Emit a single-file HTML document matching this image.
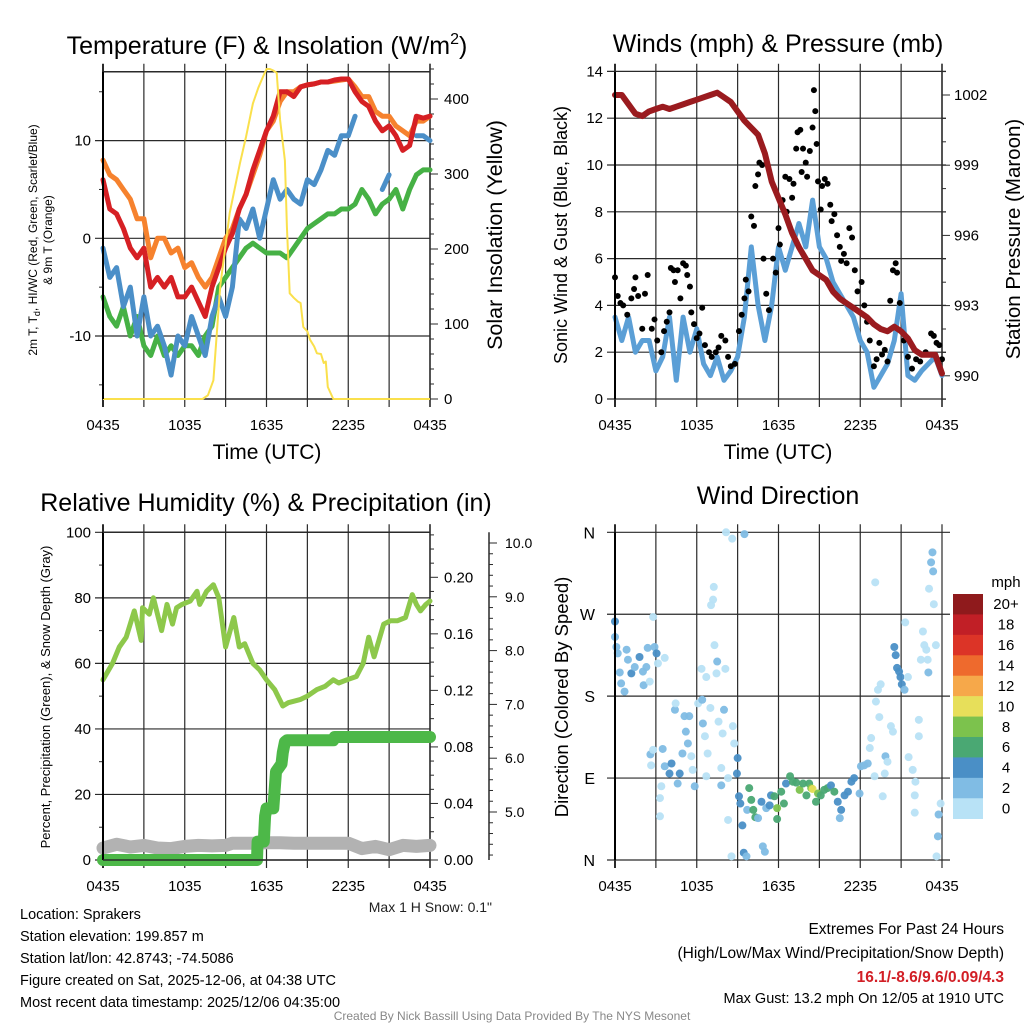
<!DOCTYPE html>
<html><head><meta charset="utf-8"><style>
html,body{margin:0;padding:0;background:#fff;}
svg{display:block;font-family:"Liberation Sans",Arial,sans-serif;}
</style></head><body>
<svg id="c" width="1024" height="1024" viewBox="0 0 1024 1024"></svg>
<script>
// ---------- DATA ----------
const timeLabels = ["0435","1035","1635","2235","0435"];
const tempTicks = [-10,0,10];
const insolTicks = [0,100,200,300,400];
const tT = [0,0.5,1,1.5,2,2.5,3,3.5,4,4.5,5,5.5,6,6.5,7,7.5,8,8.5,9,9.5,10,10.5,11,11.5,12,12.5,13,13.5,14,14.5,15,15.5,16,16.5,17,17.5,18,18.5,19,19.5,20,20.5,21,21.5,22,22.5,23,23.5,24];
const tempRed = [6,3,2.5,1,-1,-2,-1,-5,-4,-5,-4,-6,-6,-5,-6.5,-8,-5,-3,-1,0.5,3,4.5,7,9,11,12.5,15,15,14.5,15.5,15.7,15.8,16,16,16.2,16.3,16.3,15,14,13.5,12,11,11.5,10.5,9,9.5,12.5,12.3,12.5];
const tempOrange = [8,6.5,6,5,4,2,2,-2,0,0,-1.5,-1,-3,-2.5,-4,-5,-4,-2,0,1,3,4.5,6.5,8.5,11,12,14,15,15,15.5,15.7,15.8,16,16,16.1,16.2,16.3,15.5,14.5,14.5,13,12.5,12.5,11.5,11,10.5,12,12,12.5];
const tempBlue = [-1,-4,-3,-7,-5,-10,-6,-10,-9,-11,-14,-10,-11,-8,-10,-12,-8,-6,-8,-5,2,1,3,0,3,6,4,5,4,3.5,6,5.5,7,9,8.5,10.5,10.5,12.5,null,null,null,5,6.5,null,null,null,10.5,10.5,10];
const dewGreen = [-6,-8,-9,-7,-10,-8,-11,-12,-10,-12,-11,-12,-11,-11,-12,-10,-9,-5,-4,-3,-2,-1,-0.5,-1,-1.5,-1.5,-1.5,-2,-1,0,1,1.5,2,2.5,2.5,3,3,3.5,5,4,2.5,3.5,4,5,3,5,6.5,7,7];
const insolT = [0,7.3,7.7,8.1,8.6,9.3,10.05,10.5,11,11.4,11.75,12.0,12.25,12.5,12.75,13,13.35,13.5,13.7,14.0,14.3,14.5,14.7,15.0,15.2,15.5,15.7,16.0,16.2,16.35,16.5,16.9,24];
const insol = [0,0,5,25,150,248,314,350,394,415,430,440,440,438,435,372,318,230,141,135,130,128,96,90,79,70,61,60,48,50,16,0,0];

const windTicks = [0,2,4,6,8,10,12,14];
const presTicks = [990,993,996,999,1002];
const windSpeed = [3.5,2.5,3.5,2,2.5,2.5,1.2,1.8,3.5,0.8,3.5,2,3,1.5,1,1.8,0.8,1.2,1.8,3.5,6.5,4,2.5,4,6.5,5.5,6.5,7.5,6.5,8.5,6.5,6,5,4.5,4,3.5,2.5,2,0.5,1,1.5,2.5,4.5,1,0.8,1.2,1.5,1.8,1];
const pressure = [1002,1002,1001.6,1001.2,1001.1,1001.3,1001.4,1001.5,1001.4,1001.5,1001.6,1001.7,1001.8,1001.9,1002,1002.1,1001.9,1001.7,1001.3,1000.9,1000.6,1000.3,999.5,998.3,997.6,996.9,996.1,995.5,995,994.5,994.3,994.1,993.6,993.3,993.1,992.9,992.7,992.5,992.2,992,991.9,992.1,991.9,991.6,991.1,990.9,990.9,990.9,990.1];
const gustT = [0,0.2,0.4,0.6,0.9,1.2,1.4,1.5,1.7,2,2.2,2.4,2.7,2.9,3.1,3.4,3.6,3.8,4,4.1,4.3,4.4,4.6,4.8,5,5.2,5.3,5.5,5.6,5.8,6,6.2,6.4,6.6,6.9,7.1,7.4,7.6,7.8,8.1,8.3,8.5,8.8,9.1,9.3,9.5,9.6,9.8,10,10.2,10.3,10.5,10.6,10.8,10.9,11.1,11.3,11.6,11.8,12,12.1,12.3,12.5,12.6,12.8,13,13.1,13.3,13.4,13.6,13.7,13.8,14,14.1,14.3,14.5,14.6,14.7,14.8,14.9,15.1,15.2,15.4,15.6,15.8,15.9,16.1,16.3,16.5,16.6,16.8,17,17.2,17.4,17.6,17.8,18.1,18.3,18.5,18.7,19,19.2,19.4,19.6,19.8,20,20.2,20.4,20.6,20.7,20.9,21.2,21.5,21.8,22.1,22.4,22.8,23.2,23.4,23.6,23.8,24];
const gust = [5.2,4.4,4.1,4,3.6,4.3,4.7,5.2,4.4,3,4.5,5.3,3,3.4,2.5,2,2.9,3.3,3.7,5.6,5.5,5,5.5,4.3,5.8,5.7,5.3,4.8,3.7,3.2,2.6,2.8,3.9,2.3,2,1.8,2,2.2,2.7,2.5,1.8,1.4,1.5,2.9,3.6,4.3,5.1,4.6,7.8,7.4,9.1,9.6,10.1,10,6,4.5,3.8,6,5.4,7.3,6.6,8.5,9.5,8,9.4,8.6,9.2,10.7,11.4,11.5,9.7,10.7,10.1,9.5,10.6,11.6,13.2,12.3,10.9,9.3,8.1,9.1,9.4,9.2,8.3,7.6,7.9,7,6.5,5.9,6.2,5.8,7.3,6.9,5.5,4.6,5,4,3.3,2.5,1.4,1.7,2.4,1.9,2.1,1.6,4.2,5.5,5.8,5.4,4.1,2.5,1.8,1.3,1.7,1.6,2,2.8,2.7,2.4,2.3,1.7];

const rhTicks = [0,20,40,60,80,100];
const precipTicks = ["0.00","0.04","0.08","0.12","0.16","0.20"];
const snowTicks = ["5.0","6.0","7.0","8.0","9.0","10.0"];
const rhT = [0,0.7,1.2,1.7,2.3,2.8,2.9,3.4,3.7,4.3,4.7,5.1,5.4,5.8,6.4,6.9,7.1,7.6,8.1,8.5,9.0,9.6,10.0,10.4,11.0,11.5,12.0,12.6,13.2,13.6,14.5,15.0,15.7,16.3,16.9,17.3,17.9,18.6,19.1,19.5,19.9,20.6,21.1,21.6,22.2,22.7,23.0,23.3,23.7,24];
const rh = [55,60,65,68,76,67,77,75,80,70,78,72,77,78,79,82,78,82,84,80,65,74,65,66,60,58,55,52,47,48,49,50,52,53,55,54,55,56,60,68,62,72,73,73,74,81,78,76,78,79];
const precipT = [0,11.3,11.35,11.8,11.9,12.0,12.5,12.6,12.7,13.1,13.2,13.35,13.5,16.9,17.0,24];
const precip = [0,0,0.013,0.013,0.031,0.0365,0.0365,0.05,0.0625,0.068,0.076,0.0835,0.0847,0.0847,0.087,0.087];
const snowT = [0,1,2,3,4,5,6,7,8,9,9.5,10,11,12,13,14,15,16,17,18,19,20,21,22,23,24];
const snowDepth = [4.33,4.4,4.35,4.38,4.33,4.32,4.36,4.38,4.37,4.38,4.42,4.42,4.42,4.43,4.43,4.42,4.42,4.42,4.42,4.42,4.32,4.36,4.3,4.38,4.36,4.38];

const dirLabels = ["N","E","S","W","N"];
const barLabels = ["20+","18","16","14","12","10","8","6","4","2","0"];
const barColors = ["#8f1a1c","#c11f26","#dc3427","#ee6a2d","#f6a84a","#e7df5a","#7cc24d","#4aa873","#4a8fc6","#80bce4","#b8e2f6"];
const dirT = [0,0,0.1,0.2,0.35,0.45,0.7,0.85,0.95,1.2,1.45,1.8,2.05,2.3,2.4,2.1,2.55,2.8,2.9,3.05,3.15,3.65,2.6,2.65,2.8,3.3,3.3,3.4,3.5,3.65,4,4.15,4.4,4.45,4.6,4.75,4.95,5.1,5.2,5.35,5.45,5.6,5.7,5.85,6.1,6.4,6.45,6.6,6.7,6.8,7,7.05,7.2,7.25,7.3,6.35,6.7,7.45,7.5,8.1,7.6,7.9,8,7.8,7.8,8.3,8.65,8.75,8.3,8.15,8.6,9.5,8.95,9,9.1,9.2,9.35,9.45,9.65,8.55,9.7,9.85,10,10.15,10.3,10.5,10.75,10.85,11,11.1,11.35,11.45,11.7,11.9,11.9,12.2,12.4,12.55,12.85,13.05,13.3,13.55,13.8,14.05,14.25,14.4,14.5,14.75,14.9,15.1,15.35,15.6,15.85,16.1,16.35,16.5,16.6,16.85,17.1,17.35,17.55,17.95,18.05,18.3,18.55,18.7,18.8,19.05,19.15,19.3,19.4,19.5,19.65,19.8,19.85,20,19.1,20.25,20.4,20.5,20.6,20.7,20.85,20.95,21.05,21.25,21.3,21.5,21.55,21.85,22,22.05,22,22.3,22.3,22.45,22.6,22.7,22.85,22.95,23,23.05,23.2,23.3,23.35,23.4,23.55,23.7,23.75,23.9,23.6];
const dirDeg = [262,245,234,227,206,194,185,231,220,205,212,223,207,212,233,192,196,267,234,227,216,222,116,104,121,68,48,81,122,103,95,106,165,172,84,95,117,158,141,128,158,114,99,81,172,176,150,136,92,117,167,280,286,300,236,210,201,205,218,210,152,139,165,101,82,90,147,128,44,360,353,358,95,112,70,62,38,8,4,4,55,79,66,55,47,46,64,15,9,57,60,71,70,57,45,75,62,84,92,86,85,77,84,71,84,79,78,64,73,71,77,79,82,75,64,46,55,71,75,86,90,73,103,104,106,123,134,92,174,187,157,193,70,95,114,108,305,147,141,234,225,211,207,201,193,187,261,201,113,99,71,86,52,154,136,220,251,236,231,220,206,298,327,338,317,281,236,26,50,62,4];
const dirSpd = [5,3,3,3,3,3,3,3,3,5,3,5,3,3,3,3,1,1,3,5,1,1,3,1,1,1,1,1,3,3,5,5,3,1,3,5,3,3,3,3,2,1,1,3,1,3,3,1,1,1,1,1,1,1,1,1,1,1,3,1,1,1,3,1,3,1,1,1,1,1,1,3,5,5,5,5,5,5,3,1,3,7,7,7,7,3,5,3,3,3,5,5,7,9,7,7,7,5,7,7,7,9,7,7,7,9,11,7,9,7,7,7,5,7,5,3,5,5,5,5,5,3,3,2,2,1,1,1,1,1,1,1,1,1,3,1,1,1,1,5,5,5,5,5,5,3,1,1,1,1,1,1,1,1,1,1,1,1,1,1,3,1,3,3,3,1,1,3,3,1,1];

// ---------- HELPERS ----------
const svg = document.getElementById('c');
const NS = 'http://www.w3.org/2000/svg';
function mk(tag, a, parent){ const e=document.createElementNS(NS,tag); for(const k in a) e.setAttribute(k,a[k]); (parent||svg).appendChild(e); return e; }
function txt(s, x, y, size, anchor, parent, extra){ const e=mk('text',Object.assign({x:x,y:y,'font-size':size,'text-anchor':anchor||'middle',fill:'#000'},extra||{}),parent); e.textContent=s; return e; }
function pathFrom(ts, vs, xf, yf){ let d='', pen=false; for(let i=0;i<ts.length;i++){ if(vs[i]===null){pen=false;continue;} d+=(pen?'L':'M')+xf(ts[i]).toFixed(1)+' '+yf(vs[i]).toFixed(1); pen=true; } return d; }

const L = {x0:103, x1:430}, R = {x0:615, x1:942};
const xL = t => L.x0 + t/24*(L.x1-L.x0);
const xR = t => R.x0 + t/24*(R.x1-R.x0);
const GRID = '#2a2a2a';
const TF = 15;

function timeGrid(g, xf, yTop, yBot, withLabels){
  for(let h=0; h<=24; h+=3){
    const x = xf(h);
    const l = mk('line',{x1:x,y1:yTop-8,x2:x,y2:yBot+8,stroke:GRID,'stroke-width':(h===0?2:1.2)},g);
    
    
  }
  if(withLabels){
    timeLabels.forEach((s,i)=>{
      const t = txt(s, xf(i*6), yBot+31, TF, 'middle', g);
      
      
    });
  }
}
function hline(g, y, xa, xb, w){ const l=mk('line',{x1:xa,y1:y,x2:xb,y2:y,stroke:GRID,'stroke-width':w||1.2},g); return l; }

// ---------- PANEL 1: TEMPERATURE ----------
{
  const g = mk('g',{});  
  const yT = v => 238.3 - v*9.77;
  const yI = w => 399 - w*0.75;
  const top = 71.7, bot = 399;
  timeGrid(g, xL, top, bot, true);
  [top,bot].forEach(y=>{ const l=hline(g,y,L.x0,L.x1,1.5);   });
  tempTicks.forEach(v=>{ const l=hline(g,yT(v),L.x0-8,L.x1);  
    const t=txt(String(v),L.x0-12,yT(v)+5,TF,'end',g);   });
  [-15,-5,5,15].forEach(v=>{ hline(g,yT(v),L.x0-4,L.x0,1); });
  const ra = mk('line',{x1:L.x1,y1:top-8,x2:L.x1,y2:bot+8,stroke:GRID,'stroke-width':1.5},g);
   
  for(let w=0; w<=440; w+=20){ hline(g,yI(w),L.x1,L.x1+(w%100===0?8:4),1); }
  insolTicks.forEach(w=>{ const t=txt(String(w),L.x1+14,yI(w)+5,TF,'start',g);   });
  const series = [[dewGreen,'#46b145','dewpoint-line'],[tempBlue,'#4b8fc8','windchill-line'],[tempOrange,'#f6822e','temp-9m-line'],[tempRed,'#d62024','temp-2m-line']];
  series.forEach(s=>{ const p=mk('path',{d:pathFrom(tT,s[0],xL,yT),fill:'none',stroke:s[1],'stroke-width':5,'stroke-linejoin':'round','stroke-linecap':'round'},g);
      });
  const yp = mk('path',{d:pathFrom(insolT,insol,xL,yI),fill:'none',stroke:'#fae04c','stroke-width':2,'stroke-linejoin':'round'},g);
   
  const la = mk('line',{x1:L.x0,y1:top,x2:L.x0,y2:bot,stroke:'#000','stroke-width':2},g);
   
  const ti = mk('text',{x:267,y:54,'font-size':25,'text-anchor':'middle'},g);
  ti.innerHTML = 'Temperature (F) &amp; Insolation (W/m<tspan dy="-10" font-size="16">2</tspan><tspan dy="10">)</tspan>';
   
  const xt = txt('Time (UTC)',267,459,21,'middle',g);  
  const yt1 = mk('text',{x:0,y:0,'font-size':12,'text-anchor':'middle',transform:'translate(37,240) rotate(-90)'},g);
  yt1.innerHTML = '2m T, T<tspan dy="3" font-size="9">d</tspan><tspan dy="-3">, HI/WC (Red, Green, Scarlet/Blue)</tspan>';
   
  const yt2 = txt('& 9m T (Orange)',0,0,12,'middle',g,{transform:'translate(52,240) rotate(-90)'});
   
  const yr = txt('Solar Insolation (Yellow)',0,0,21.5,'middle',g,{transform:'translate(502,235) rotate(-90)'});
   
}

// ---------- PANEL 2: WINDS ----------
{
  const g = mk('g',{});  
  const yW = w => 399 - w*23.4;
  const yP = p => 95 + (1002-p)*23.4;
  const top = 71.7, bot = 399;
  timeGrid(g, xR, top, bot, true);
  windTicks.forEach(w=>{ const l=hline(g,yW(w),R.x0-8,R.x1+4);  
    const t=txt(String(w),R.x0-12,yW(w)+5,TF,'end',g);   });
  const ra = mk('line',{x1:R.x1,y1:top-8,x2:R.x1,y2:bot+8,stroke:GRID,'stroke-width':1.5},g);
   
  for(let p=989; p<=1003; p++){ hline(g,yP(p),R.x1,R.x1+((p-990)%3===0?8:4),1); }
  presTicks.forEach(p=>{ const t=txt(String(p),R.x1+12,yP(p)+5,TF,'start',g);   });
  const wp = mk('path',{d:pathFrom(tT,windSpeed,xR,yW),fill:'none',stroke:'#5b9fd6','stroke-width':5,'stroke-linejoin':'round','stroke-linecap':'round'},g);
   
  gustT.forEach((t,i)=>{ const c=mk('circle',{cx:xR(t),cy:yW(gust[i]),r:3,fill:'#000'},g);
      });
  const pp = mk('path',{d:pathFrom(tT,pressure,xR,yP),fill:'none',stroke:'#9a1b1f','stroke-width':6,'stroke-linejoin':'round','stroke-linecap':'round'},g);
   
  const la = mk('line',{x1:R.x0,y1:top,x2:R.x0,y2:bot,stroke:'#000','stroke-width':2},g);
   
  const ti = txt('Winds (mph) & Pressure (mb)',778,52,25,'middle',g);  
  const xt = txt('Time (UTC)',778,459,21,'middle',g);  
  const yl = txt('Sonic Wind & Gust (Blue, Black)',0,0,18,'middle',g,{transform:'translate(567,235) rotate(-90)'});
   
  const yr = txt('Station Pressure (Maroon)',0,0,20.5,'middle',g,{transform:'translate(1020,239) rotate(-90)'});
   
}

// ---------- PANEL 3: RH & PRECIP ----------
{
  const g = mk('g',{});  
  const yH = r => 860 - r*3.277;
  const yPr = p => 860 - p*1413.5;
  const yS = s => 812 - (s-5)*53.8;
  const top = 532.3, bot = 860;
  timeGrid(g, xL, top, bot, true);
  rhTicks.forEach(r=>{ const l=hline(g,yH(r),L.x0-8,L.x1);  
    const t=txt(String(r),L.x0-12,yH(r)+5,TF,'end',g);   });
  [10,30,50,70,90].forEach(r=>hline(g,yH(r),L.x0-4,L.x0,1));
  const ra = mk('line',{x1:L.x1,y1:top-8,x2:L.x1,y2:bot+8,stroke:GRID,'stroke-width':1.5},g);
   
  for(let k=0;k<=23;k++){ hline(g,yPr(k*0.01),L.x1,L.x1+(k%4===0?8:4),1); }
  precipTicks.forEach(s=>{ const t=txt(s,L.x1+14,yPr(parseFloat(s))+5,TF,'start',g);   });
  const sa = mk('line',{x1:489,y1:top,x2:489,y2:bot,stroke:GRID,'stroke-width':1.5},g);
   
  for(let k=0;k<=29;k++){ const s=4.2+k*0.2; const y=yS(s); if(y<top||y>bot) continue; hline(g,y,489,489+(Math.abs(s-Math.round(s))<0.01?8:4),1); }
  snowTicks.forEach(s=>{ const t=txt(s,505,yS(parseFloat(s))+5,14,'start',g);   });
  const sp = mk('path',{d:pathFrom(snowT,snowDepth,xL,yS),fill:'none',stroke:'#b2b2b2','stroke-width':13,'stroke-linejoin':'round','stroke-linecap':'round'},g);
   
  let pd=''; precipT.forEach((t,i)=>{ pd += (i?'L':'M')+xL(t).toFixed(1)+' '+yPr(precip[i]).toFixed(1); });
  const pp = mk('path',{d:pd,fill:'none',stroke:'#4db848','stroke-width':12,'stroke-linejoin':'round','stroke-linecap':'round'},g);
   
  const hp = mk('path',{d:pathFrom(rhT,rh,xL,yH),fill:'none',stroke:'#8dc84b','stroke-width':5,'stroke-linejoin':'round','stroke-linecap':'round'},g);
   
  const la = mk('line',{x1:L.x0,y1:top,x2:L.x0,y2:bot,stroke:'#000','stroke-width':2},g);
   
  [top,bot].forEach(y=>hline(g,y,L.x0,L.x1,1.5));
  const ti = txt('Relative Humidity (%) & Precipitation (in)',266,511,25,'middle',g);  
  const yl = txt('Percent, Precipitation (Green), & Snow Depth (Gray)',0,0,13,'middle',g,{transform:'translate(50,697) rotate(-90)'});
   
  const ms = txt('Max 1 H Snow: 0.1"',492,912,14,'end',g,{fill:'#222'});  
}

// ---------- PANEL 4: WIND DIRECTION ----------
{
  const g = mk('g',{});  
  const yD = d => 860 - d*0.9103;
  const top = 532.3, bot = 860;
  timeGrid(g, xR, top, bot, true);
  dirLabels.forEach((s,i)=>{ const l=hline(g,yD(i*90),R.x0-8,R.x1+8);  
    const t=txt(s,R.x0-20,yD(i*90)+6,16,'end',g);   });
  const colorFor = s => barColors[10-Math.min(10,Math.floor(s/2))];
  dirT.forEach((t,i)=>{ const c=mk('circle',{cx:xR(t),cy:yD(dirDeg[i]),r:4,fill:colorFor(dirSpd[i]),'fill-opacity':0.95},g);
      });
  const la = mk('line',{x1:R.x0,y1:top,x2:R.x0,y2:bot,stroke:'#000','stroke-width':2},g);
   
  const ti = txt('Wind Direction',778,504,25,'middle',g);  
  const yl = txt('Direction (Colored By Speed)',0,0,18.5,'middle',g,{transform:'translate(568,697) rotate(-90)'});
   
  const cb = mk('g',{},g);  
  const bh = (818.7-594)/barColors.length;
  barColors.forEach((c,i)=>{ const r=mk('rect',{x:953,y:594+i*bh,width:30,height:bh+0.3,fill:c},cb);
     
    const t=txt(barLabels[i],1006,594+i*bh+bh/2+5,15,'middle',cb);   });
  const mu = txt('mph',1006,587,15,'middle',cb);  
}

// ---------- FOOTER TEXT ----------
{
  const g = mk('g',{});  
  const lines = ['Location: Sprakers','Station elevation: 199.857 m','Station lat/lon: 42.8743; -74.5086','Figure created on Sat, 2025-12-06, at 04:38 UTC','Most recent data timestamp: 2025/12/06 04:35:00'];
  lines.forEach((s,i)=>{ const t=txt(s,20,919+i*22,14.5,'start',g);   });
  const e = mk('g',{});  
  const a=txt('Extremes For Past 24 Hours',1004,934,15.5,'end',e);  
  const b=txt('(High/Low/Max Wind/Precipitation/Snow Depth)',1004,958,15.5,'end',e);  
  const c=txt('16.1/-8.6/9.6/0.09/4.3',1004,982,15.5,'end',e,{fill:'#d21f26','font-weight':'bold'});  
  const d=txt('Max Gust: 13.2 mph On 12/05 at 1910 UTC',1004,1003,14.5,'end',e);  
  const f=txt('Created By Nick Bassill Using Data Provided By The NYS Mesonet',512,1020,12,'middle',svg,{fill:'#888'});  
}
</script>
</body></html>
